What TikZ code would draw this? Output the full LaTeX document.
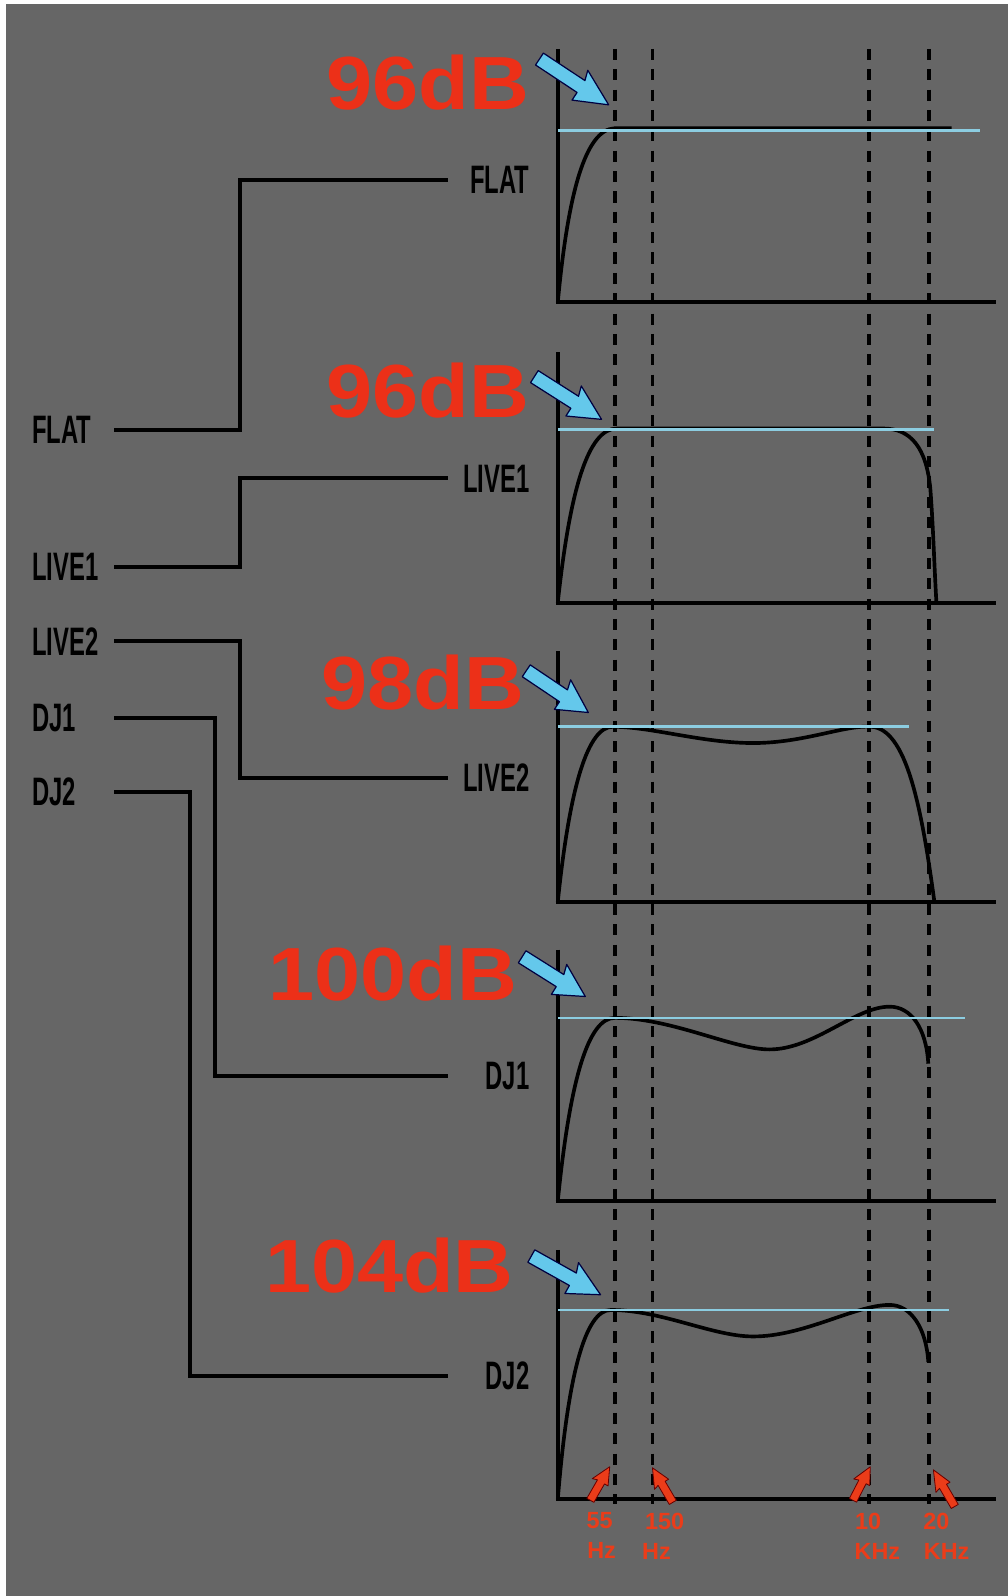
\documentclass[tikz,border=0pt]{standalone}
\usepackage{fontspec}
\setmainfont{Liberation Sans}
\usetikzlibrary{calc}
\definecolor{bg}{RGB}{102,102,102}
\definecolor{dbred}{RGB}{236,48,24}
\definecolor{skyline}{RGB}{140,205,225}
\definecolor{arrowblue}{RGB}{100,200,235}
\definecolor{arrowred}{RGB}{235,60,25}
% fat arrow from tail #1 to head #2, half shaft #3, half head #4, head fraction #5
\newcommand\fatarrow[6]{%
  \coordinate (fa-t) at #1;
  \coordinate (fa-h) at #2;
  \coordinate (fa-m) at ($(fa-t)!#5!(fa-h)$);
  \coordinate (fa-n) at ($(fa-t)!#5-0.04!(fa-h)$);
  \filldraw[#6]
    ($(fa-t)!#3!90:(fa-h)$) -- ($(fa-m)!#3!90:(fa-h)$) -- ($(fa-n)!#4!90:(fa-h)$)
    -- (fa-h) -- ($(fa-m)!#4-1pt!-90:(fa-h)$) -- ($(fa-m)!#3!-90:(fa-h)$)
    -- ($(fa-t)!#3!-90:(fa-h)$) -- cycle;}
\begin{document}
\begin{tikzpicture}[x=1pt,y=-1pt,
  conn/.style={line width=4pt},
  curve/.style={line width=3.6pt},
  axisline/.style={line width=4pt},
  guide/.style={line width=3.6pt, dash pattern=on 11pt off 9pt},
  level/.style={skyline, line width=2.5pt},
  skyarrowstyle/.style={fill=arrowblue, draw=black!75!blue, line width=1.2pt, line join=round},
  hotarrowstyle/.style={fill=arrowred, draw=black!60!red, line width=0.8pt, line join=round},
  leftlbl/.style={inner sep=0pt, anchor=east, text width=80pt, align=left, font=\bfseries\fontsize{39}{39}\selectfont},
  rightlbl/.style={inner sep=0pt, anchor=west, text width=80pt, align=right, font=\bfseries\fontsize{39}{39}\selectfont},
  dbl/.style={text=dbred, anchor=base east, inner sep=0pt, font=\bfseries\fontsize{74}{74}\selectfont},
  freq/.style={text=arrowred, inner sep=0pt, font=\bfseries\fontsize{23}{23}\selectfont},
]
\useasboundingbox (0,0) rectangle (990,1568);
\fill[white] (0,0) rectangle (990,1568);
\fill[bg] (6,4) rectangle (990,1568);

% guide lines
\foreach \gx in {604,641,854,913} \draw[guide] (\gx,48) -- (\gx,1478);

% axes
\draw[axisline] (548,48) -- (548,297) -- (979,297);
\draw[axisline] (548,346) -- (548,592) -- (979,592);
\draw[axisline] (548,640) -- (548,886) -- (979,886);
\draw[axisline] (548,933) -- (548,1180) -- (979,1180);
\draw[axisline] (548,1228) -- (548,1473) -- (979,1473);

% curves
\draw[curve] (548,297) .. controls (558,190) and (575,127) .. (604,126) -- (935,126);
\draw[curve] (548,592) .. controls (560,480) and (578,421) .. (606,421) -- (868,421) .. controls (895,421) and (910,440) .. (914,480) .. controls (917,520) and (918,560) .. (920,592);
\draw[curve] (548,886) .. controls (560,770) and (578,714) .. (602,714) .. controls (640,714) and (690,730) .. (740,730) .. controls (790,730) and (830,712) .. (856,714) .. controls (890,716) and (905,790) .. (918,886);
\draw[curve] (548,1180) .. controls (560,1060) and (578,1000) .. (604,1000) .. controls (660,1000) and (720,1031) .. (756,1031) .. controls (800,1031) and (840,989) .. (874,989) .. controls (895,989) and (910,1010) .. (912,1045);
\draw[curve] (548,1473) .. controls (558,1350) and (575,1287) .. (600,1287) .. controls (650,1287) and (700,1313) .. (740,1313) .. controls (790,1313) and (840,1282) .. (874,1282) .. controls (895,1282) and (910,1305) .. (912,1338);

% level lines
\draw[level] (548,128) -- (963,128);
\draw[level] (548,422) -- (918,422);
\draw[level] (548,714) -- (893,714);
\draw[level] (548,1000) -- (948,1000);
\draw[level] (548,1287) -- (932,1287);

% dB labels
\node[dbl] (db1) at (520,108) {\scalebox{1.1}[1]{96dB}};
\node[dbl] (db2) at (520,410) {\scalebox{1.1}[1]{96dB}};
\node[dbl] (db3) at (515,697) {\scalebox{1.1}[1]{98dB}};
\node[dbl] (db4) at (508,983) {\scalebox{1.1}[1]{100dB}};
\node[dbl] (db5) at (505,1270) {\scalebox{1.1}[1]{104dB}};

% blue arrows
\fatarrow{(530,58)}{(598,103)}{7pt}{17pt}{0.6}{skyarrowstyle}
\fatarrow{(525,370)}{(591,412)}{7pt}{17pt}{0.6}{skyarrowstyle}
\fatarrow{(517,659)}{(578,700)}{7pt}{17pt}{0.6}{skyarrowstyle}
\fatarrow{(513,940)}{(575,979)}{7pt}{17pt}{0.6}{skyarrowstyle}
\fatarrow{(522,1234)}{(590,1272)}{7pt}{17pt}{0.6}{skyarrowstyle}

% red frequency arrows
\fatarrow{(580,1474)}{(599,1441)}{4pt}{9pt}{0.55}{hotarrowstyle}
\fatarrow{(661,1476)}{(641,1442)}{4pt}{9pt}{0.55}{hotarrowstyle}
\fatarrow{(838,1474)}{(855,1441)}{4pt}{9pt}{0.55}{hotarrowstyle}
\fatarrow{(938,1480)}{(917,1444)}{4pt}{9pt}{0.55}{hotarrowstyle}

% frequency labels
\node[freq] (f1) at (589,1494) {55};
\node[freq] (f1u) at (591,1523) {Hz};
\node[freq] (f2) at (653,1495) {150};
\node[freq] (f2u) at (645,1524) {Hz};
\node[freq] (f3) at (853,1495) {10};
\node[freq] (f3u) at (862,1524) {KHz};
\node[freq] (f4) at (920,1495) {20};
\node[freq] (f4u) at (930,1524) {KHz};

% mode labels
\node[leftlbl] (lflat) at (112,422) {\scalebox{0.6}[1]{FLAT}};
\node[leftlbl] (llive1) at (112,557) {\scalebox{0.6}[1]{LIVE1}};
\node[leftlbl] (llive2) at (112,630) {\scalebox{0.6}[1]{LIVE2}};
\node[leftlbl] (ldj1) at (112,705) {\scalebox{0.6}[1]{DJ1}};
\node[leftlbl] (ldj2) at (112,778) {\scalebox{0.6}[1]{DJ2}};
\node[rightlbl] (rflat) at (440,177) {\scalebox{0.6}[1]{FLAT}};
\node[rightlbl] (rlive1) at (440,470) {\scalebox{0.6}[1]{LIVE1}};
\node[rightlbl] (rlive2) at (440,764) {\scalebox{0.6}[1]{LIVE2}};
\node[rightlbl] (rdj1) at (440,1057) {\scalebox{0.6}[1]{DJ1}};
\node[rightlbl] (rdj2) at (440,1352) {\scalebox{0.6}[1]{DJ2}};

\coordinate (va) at (236,0);
\coordinate (vb) at (211,0);
\coordinate (vc) at (187,0);
\draw[conn] (lflat.east) -- (lflat.east -| va) |- (rflat.west);
\draw[conn] (llive1.east) -- (llive1.east -| va) |- (rlive1.west);
\draw[conn] (llive2.east) -- (llive2.east -| va) |- (rlive2.west);
\draw[conn] (ldj1.east) -- (ldj1.east -| vb) |- (rdj1.west);
\draw[conn] (ldj2.east) -- (ldj2.east -| vc) |- (rdj2.west);
\end{tikzpicture}
\end{document}
